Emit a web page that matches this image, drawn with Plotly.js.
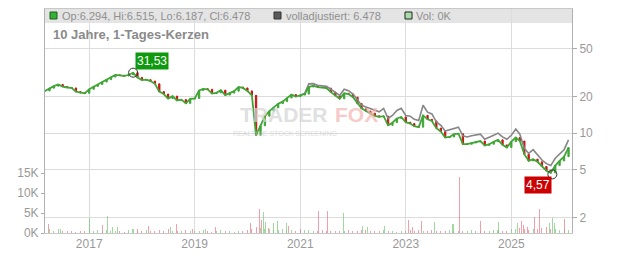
<!DOCTYPE html>
<html>
<head>
<meta charset="utf-8">
<script src="https://cdn.plot.ly/plotly-3.0.1.min.js"></script>
<style>html,body{margin:0;padding:0;background:#fff;}#chart{width:632px;height:253px;}</style>
</head>
<body>
<div id="chart"></div>
<script>
// ---- data (monthly) ----
var months = [];
(function(){ for (var y = 2016, m = 3; !(y === 2026 && m === 3); ) { months.push(y + '-' + (m < 10 ? '0' + m : m) + '-01'); m++; if (m > 12) { m = 1; y++; } } })();

var closePrice = [
  22.3, 23.5, 24.4, 25.2, 24.2, 23.8, 23.6, 22.0, 21.5, 21.3,
  23.0, 24.3, 25.2, 26.4, 27.6, 29.0, 30.2, 30.0, 29.6, 30.3, 31.5, 28.8,
  27.4, 27.6, 26.9, 25.5, 22.0, 21.0, 19.3, 20.2, 18.6, 18.9, 17.6, 19.2,
  19.3, 22.5, 23.2, 23.0, 21.2, 21.5, 22.6, 20.6, 21.4, 22.2, 24.0, 23.6,
  22.3, 20.5, 9.6, 11.5, 13.8, 15.2, 16.2, 17.5, 18.2, 19.5, 20.8, 20.0,
  20.6, 21.0, 24.0, 24.6, 24.0, 23.8, 23.5, 21.8, 20.3, 19.2, 21.3, 21.0,
  19.8, 17.5, 16.0, 15.2, 14.6, 13.9, 13.6, 13.8, 11.6, 12.2, 13.2, 13.6,
  12.3, 12.0, 11.4, 11.2, 14.0, 13.0, 12.6, 11.0, 10.3, 9.2, 9.3, 9.8,
  9.9, 8.1, 8.1, 8.3, 8.5, 8.6, 7.9, 8.1, 8.5, 8.8, 8.0, 7.6,
  8.5, 9.2, 8.6, 6.7, 5.9, 6.1, 5.8, 5.3, 4.9, 4.7, 5.4, 5.9,
  6.4, 7.6
];

// fully adjusted series from 2021-01 on (identical to price before)
var adjLate = [
  20.6, 21.2, 25.5, 25.6, 24.8, 24.6, 24.3, 23.0, 21.6, 20.5, 23.0, 22.4,
  21.0, 19.0, 17.0, 16.4, 15.9, 15.3, 15.0, 16.0, 13.2, 14.0, 15.4, 16.0,
  14.0, 13.8, 13.0, 12.7, 17.0, 14.9, 14.4, 12.4, 11.6, 10.4, 10.7, 11.0,
  11.2, 9.5, 9.3, 9.5, 9.7, 9.8, 8.9, 9.2, 9.6, 10.0, 9.3, 8.9,
  9.6, 10.8, 9.8, 7.5, 6.8, 7.3, 6.6, 6.0, 5.6, 5.4, 6.2, 6.7,
  7.3, 8.8
];

// monthly base volume (thousands)
var volBase = [
  0.8, 1.0, 0.6, 0.9, 0.5, 0.4, 0.6, 0.3, 0.5, 0.4,
  0.9, 0.5, 0.7, 0.6, 0.8, 0.4, 0.5, 0.6, 0.3, 0.7, 0.9, 0.4,
  0.5, 0.8, 0.6, 0.4, 0.7, 0.5, 0.9, 0.6, 0.4, 0.5, 0.7, 0.6,
  0.6, 0.4, 0.8, 0.5, 0.3, 0.6, 0.7, 0.4, 0.5, 0.3, 0.6, 0.5,
  0.7, 0.9, 1.5, 1.2, 1.0, 0.9, 0.8, 0.7, 0.9, 0.6, 0.8, 0.5,
  0.6, 0.7, 0.8, 0.5, 0.6, 0.7, 0.5, 0.4, 0.6, 0.5, 0.4, 0.7,
  0.5, 0.6, 0.8, 0.7, 0.5, 0.4, 0.6, 0.7, 0.5, 0.4, 0.3, 0.5,
  0.6, 0.8, 0.5, 0.7, 0.6, 0.5, 0.7, 0.4, 0.6, 0.5, 0.7, 0.6,
  0.5, 0.6, 0.4, 0.7, 0.5, 0.6, 0.4, 0.5, 0.7, 0.8, 0.6, 0.5,
  0.9, 1.0, 1.2, 1.1, 0.8, 0.9, 1.0, 1.2, 1.4, 1.1, 0.9, 0.8,
  0.9, 0.7
];

// notable volume days (thousands)
var spikeDates = ['2016-03-28','2016-06-13','2017-01-02','2017-04-01','2017-05-05','2017-06-09','2017-07-13','2017-10-30','2017-11-28','2018-02-13','2018-07-15','2018-08-25','2018-12-20','2019-03-20','2019-05-22','2020-01-20','2020-03-22','2020-04-05','2020-04-20','2020-05-05','2020-05-23','2020-06-28','2020-07-25','2020-09-25','2020-10-08','2021-01-01','2021-05-05','2021-07-06','2021-10-26','2022-03-07','2022-04-09','2022-08-04','2023-01-22','2023-02-20','2023-04-22','2023-07-16','2023-11-24','2024-01-05','2024-05-29','2024-10-01','2025-02-10','2025-03-10','2025-03-29','2025-04-26','2025-06-13','2025-07-13','2025-09-20','2025-10-12','2025-10-26','2026-01-04'];
var spikeVals  = [2.2, 1.1, 3.7, 2.0, 4.3, 1.4, 1.5, 1.0, 1.0, 1.7, 1.4, 2.2, 1.0, 1.0, 1.5, 2.4, 6.0, 3.2, 5.2, 2.8, 1.3, 2.4, 3.0, 2.4, 1.7, 0.9, 5.6, 5.6, 5.1, 1.7, 1.4, 1.7, 3.3, 1.5, 3.0, 2.8, 2.2, 14.1, 3.0, 2.7, 2.5, 3.0, 2.0, 1.5, 4.1, 6.1, 2.4, 3.7, 2.4, 3.4];
var spikeUp    = [0, 1, 1, 0, 1, 1, 1, 1, 0, 0, 1, 0, 0, 1, 0, 0, 0, 0, 1, 1, 0, 1, 1, 1, 0, 0, 0, 0, 1, 1, 1, 1, 0, 0, 0, 1, 1, 0, 0, 1, 1, 0, 0, 0, 0, 0, 1, 1, 1, 0];

var extremeDates = ['2017-11-01', '2025-10-12'];
var extremeVals  = [31.53, 4.57];
var extremeText  = ['31,53', '4,57'];

var yearTicks = ['2017-01-01', '2019-01-01', '2021-01-01', '2023-01-01', '2025-01-01'];
var yearLabels = ['2017', '2019', '2021', '2023', '2025'];
var priceTicks = [2, 5, 10, 20, 50];
var volTicks = [0, 5000, 10000, 15000];
var volTickText = ['0K', '5K', '10K', '15K'];

// ---- derived ----
var openPrice = closePrice.map(function(c, i){ return i === 0 ? c : closePrice[i-1]; });
var highPrice = closePrice.map(function(c, i){ return Math.max(c, openPrice[i]); });
var lowPrice  = closePrice.map(function(c, i){ return Math.min(c, openPrice[i]); });
var adjStart = months.length - adjLate.length;
var adjMonths = months.slice(adjStart);

var GREEN = '#3fa535', RED = '#cc1111';
var VOLG = 'rgba(120,200,120,0.7)', VOLR = 'rgba(235,120,135,0.7)';
var DAY = 86400000;

var volColors = closePrice.map(function(c, i){ return c >= openPrice[i] ? VOLG : VOLR; });

var traces = [
  { type: 'bar', x: months, y: volBase.map(function(v){ return v * 1000; }), yaxis: 'y', xaxis: 'x',
    marker: { color: volColors, line: { width: 0 } }, width: 7 * DAY, hoverinfo: 'skip', showlegend: false },
  { type: 'bar', x: spikeDates, y: spikeVals.map(function(v){ return v * 1000; }), yaxis: 'y', xaxis: 'x',
    marker: { color: spikeUp.map(function(u){ return u ? VOLG : VOLR; }), line: { width: 0 } }, width: 7 * DAY, hoverinfo: 'skip', showlegend: false },
  { type: 'scatter', mode: 'lines', x: adjMonths, y: adjLate, yaxis: 'y2', xaxis: 'x',
    line: { color: '#868686', width: 1.6 }, hoverinfo: 'skip', showlegend: false },
  { type: 'scatter', mode: 'lines', x: months, y: closePrice, yaxis: 'y2', xaxis: 'x',
    line: { color: GREEN, width: 1.8 }, hoverinfo: 'skip', showlegend: false },
  { type: 'candlestick', x: months, open: openPrice, high: highPrice, low: lowPrice, close: closePrice,
    yaxis: 'y2', xaxis: 'x', whiskerwidth: 0,
    increasing: { line: { color: GREEN, width: 1 }, fillcolor: GREEN },
    decreasing: { line: { color: RED, width: 1 }, fillcolor: RED },
    hoverinfo: 'skip', showlegend: false },
  { type: 'scatter', mode: 'markers', x: extremeDates, y: extremeVals, yaxis: 'y2', xaxis: 'x',
    marker: { symbol: 'circle-open', size: 9, color: '#333', line: { width: 1, color: '#333' } },
    hoverinfo: 'skip', showlegend: false }
];

function px(x){ return (x - 45) / 527; }
function py(y){ return (233 - y) / 224; }

var FONT = 'Liberation Sans, Arial, sans-serif';
var layout = {
  width: 632, height: 253,
  margin: { l: 45, r: 60, t: 9, b: 20, pad: 0 },
  paper_bgcolor: '#fff', plot_bgcolor: 'rgba(0,0,0,0)',
  showlegend: false, boxgap: 0.55, bargap: 0,
  font: { family: FONT, size: 11, color: '#999' },
  xaxis: {
    type: 'date', range: ['2016-03-01', '2026-02-25'],
    tickvals: yearTicks, ticktext: yearLabels, ticks: '',
    showgrid: true, gridcolor: '#dcdcdc', gridwidth: 1,
    showline: true, linecolor: '#c8c8c8', linewidth: 1, mirror: true,
    zeroline: false, rangeslider: { visible: false },
    tickfont: { family: FONT, size: 12, color: '#999' }
  },
  yaxis: {
    range: [0, 56000], side: 'left', showgrid: false, zeroline: false,
    tickvals: volTicks, ticktext: volTickText, ticks: 'outside', ticklen: 3, tickcolor: '#aaa',
    showline: true, linecolor: '#b0b0b0', linewidth: 1,
    tickfont: { family: FONT, size: 12, color: '#999' }
  },
  yaxis2: {
    type: 'log', range: [Math.log10(1.5), Math.log10(105.7)],
    overlaying: 'y', side: 'right',
    tickvals: priceTicks, ticktext: priceTicks.map(String), ticks: 'outside', ticklen: 4, tickcolor: '#aaa',
    showgrid: true, gridcolor: '#dcdcdc', gridwidth: 1, zeroline: false,
    showline: true, linecolor: '#b0b0b0', linewidth: 1,
    tickfont: { family: FONT, size: 12, color: '#999' }
  },
  shapes: [
    { type: 'rect', xref: 'paper', yref: 'paper', x0: 0, x1: 1, y0: py(23), y1: 1,
      fillcolor: '#e4e4e4', line: { width: 0 }, layer: 'below' },
    { type: 'rect', xref: 'paper', yref: 'paper', x0: px(50), x1: px(57), y0: py(19), y1: py(12),
      fillcolor: '#33b233', line: { color: '#1f5f1f', width: 1 }, layer: 'above' },
    { type: 'rect', xref: 'paper', yref: 'paper', x0: px(274), x1: px(281), y0: py(19), y1: py(12),
      fillcolor: '#5a5a5a', line: { color: '#333', width: 1 }, layer: 'above' },
    { type: 'rect', xref: 'paper', yref: 'paper', x0: px(405), x1: px(412), y0: py(19), y1: py(12),
      fillcolor: '#a9dba9', line: { color: '#222', width: 1 }, layer: 'above' }
  ],
  annotations: [
    { xref: 'paper', yref: 'paper', x: px(60), y: py(16), xanchor: 'left', yanchor: 'middle', showarrow: false,
      text: 'Op:6.294, Hi:6.515, Lo:6.187, Cl:6.478', font: { family: FONT, size: 11, color: '#8f8f8f' } },
    { xref: 'paper', yref: 'paper', x: px(284), y: py(16), xanchor: 'left', yanchor: 'middle', showarrow: false,
      text: 'volladjustiert: 6.478', font: { family: FONT, size: 11, color: '#8f8f8f' } },
    { xref: 'paper', yref: 'paper', x: px(414), y: py(16), xanchor: 'left', yanchor: 'middle', showarrow: false,
      text: 'Vol: 0K', font: { family: FONT, size: 11, color: '#8f8f8f' } },
    { xref: 'paper', yref: 'paper', x: px(51), y: py(34), xanchor: 'left', yanchor: 'middle', showarrow: false,
      text: '<b>10 Jahre, 1-Tages-Kerzen</b>', font: { family: FONT, size: 13, color: '#8a8a8a' } },
    // watermark
    { xref: 'paper', yref: 'paper', x: px(284), y: py(114), xanchor: 'center', yanchor: 'middle', showarrow: false,
      text: '<b>TRADER</b>', opacity: 0.75, borderpad: 0, font: { family: FONT, size: 21, color: '#d6d6d6' } },
    { xref: 'paper', yref: 'paper', x: px(334), y: py(114), xanchor: 'left', yanchor: 'middle', showarrow: false,
      text: '<b>FOX</b>', opacity: 0.7, borderpad: 0, font: { family: FONT, size: 21, color: '#f4b4b4' } },
    { xref: 'paper', yref: 'paper', x: px(285), y: py(133), xanchor: 'center', yanchor: 'middle', showarrow: false,
      text: 'REALTIME STOCK SCREENING', opacity: 0.7, borderpad: 0, font: { family: FONT, size: 7, color: '#d0d0d0' } },
    // extreme labels
    { xref: 'x', yref: 'y2', x: extremeDates[0], y: Math.log10(extremeVals[0]), showarrow: false,
      xanchor: 'center', yanchor: 'middle', xshift: 18.5, yshift: 11.5,
      text: extremeText[0], bgcolor: '#0e9a0e', borderpad: 1,
      font: { family: FONT, size: 12, color: '#fff' } },
    { xref: 'x', yref: 'y2', x: extremeDates[1], y: Math.log10(extremeVals[1]), showarrow: false,
      xanchor: 'center', yanchor: 'middle', xshift: -14.5, yshift: -11,
      text: extremeText[1], bgcolor: '#cc0000', borderpad: 1,
      font: { family: FONT, size: 12, color: '#fff' } }
  ]
};

Plotly.newPlot('chart', traces, layout, { staticPlot: true, displayModeBar: false });
</script>
</body>
</html>
